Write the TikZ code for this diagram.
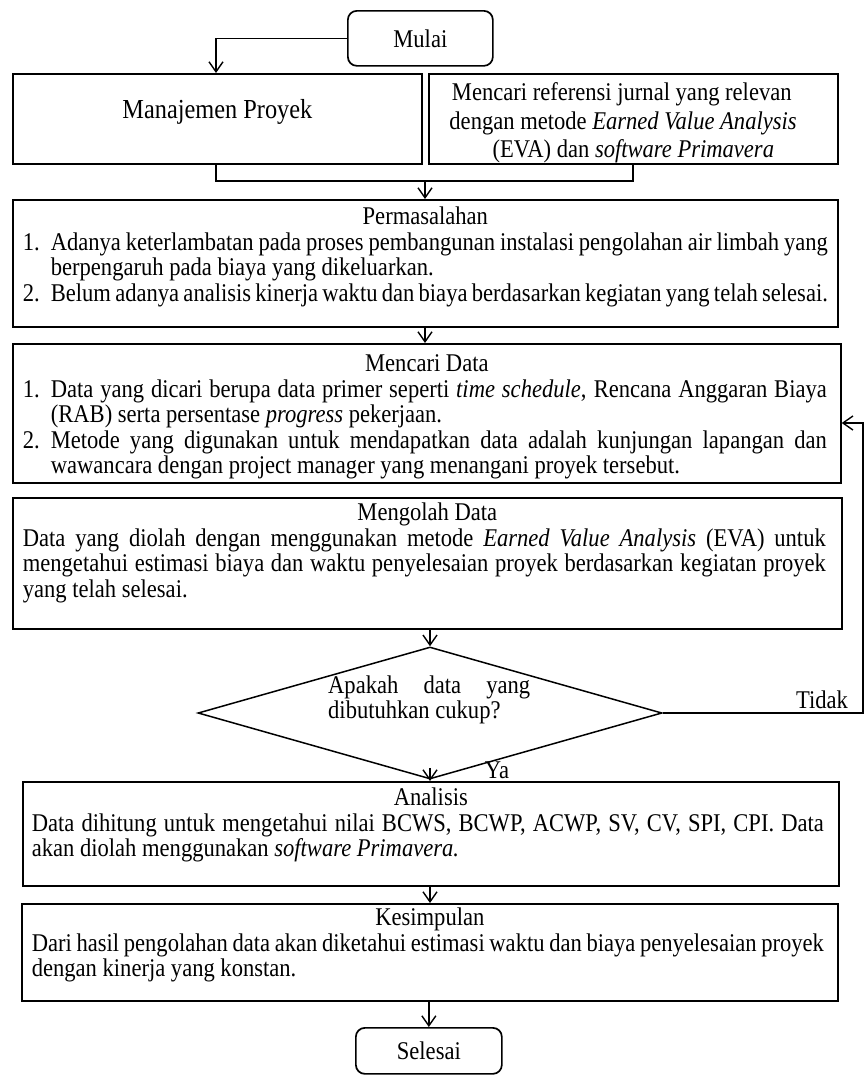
\documentclass[tikz,border=0pt]{standalone}
\usepackage{fontspec}
\setmainfont{Liberation Serif}[FakeStretch=0.885]
\usetikzlibrary{shapes.geometric,arrows.meta}
\newcommand\ttl[2]{{\leftskip=0pt plus 1fil\rightskip=0pt plus 1fil\parfillskip=0pt\rule{0pt}{#1}#2\par}}
\newcommand\itm[2]{{\hangindent=28pt\hangafter=1\noindent\makebox[28pt][l]{#1}#2\par}}
\newcommand\fbx[5]{\parbox[c][#1][t]{#2}{\leftskip=#3\rightskip=#4\parindent=0pt\parskip=0pt
  \tolerance=9999\hbadness=10000\hyphenpenalty=10000\exhyphenpenalty=10000#5}}
\tikzset{
  base/.style={font=\fontsize{25.5}{25.5}\selectfont},
  box/.style={base, draw, line width=1.7pt, inner sep=0pt, anchor=north west},
  term/.style={base, draw, line width=1.7pt, rounded corners=9pt, inner sep=0pt, anchor=north west},
  arr/.style={line width=1.4pt, -{Straight Barb[length=10pt,width=14pt,line width=1.4pt]}},
  ln/.style={line width=1.4pt},
  lbl/.style={base, inner sep=0pt, anchor=base},
}
\begin{document}
\begin{tikzpicture}[x=1pt,y=-1pt]
\useasboundingbox (0,0) rectangle (864,1076);
% terminals
\node[term, minimum width=145pt, minimum height=55pt] (mulai) at (347,10) {Mulai};
\node[term, minimum width=146pt, minimum height=46pt] (selesai) at (355,1027) {Selesai};
% top boxes
\node[box] (mp) at (12,73) {\fbx{90pt}{409pt}{0pt}{0pt}{\fontsize{27.5}{28}\selectfont\ttl{45pt}{Manajemen Proyek}}};
\node[box] (ref) at (428,73) {\fbx{90pt}{409pt}{0pt}{0pt}{\fontsize{25.5}{28.5}\selectfont
  \ttl{27pt}{Mencari referensi jurnal yang relevan\\ dengan metode \textit{Earned Value Analysis}\\ (EVA) dan \textit{software Primavera}}}};
% Permasalahan
\node[box] (perm) at (12,199) {\fbx{127pt}{825pt}{10pt}{10pt}{
  \ttl{25pt}{Permasalahan}
  \itm{1.}{Adanya keterlambatan pada proses pembangunan instalasi pengolahan air limbah yang\linebreak berpengaruh pada biaya yang dikeluarkan.}
  \itm{2.}{Belum adanya analisis kinerja waktu dan biaya berdasarkan kegiatan yang telah selesai.}}};
% Mencari Data
\node[box] (md) at (12,343) {\fbx{139pt}{828pt}{10pt}{14pt}{
  \ttl{28pt}{Mencari Data}
  \itm{1.}{Data yang dicari berupa data primer seperti \textit{time schedule}, Rencana Anggaran Biaya\linebreak (RAB) serta persentase \textit{progress} pekerjaan.}
  \itm{2.}{Metode yang digunakan untuk mendapatkan data adalah kunjungan lapangan dan\linebreak wawancara dengan project manager yang menangani proyek tersebut.}}};
% Mengolah Data
\node[box] (mo) at (12,497) {\fbx{131pt}{829pt}{10pt}{16pt}{
  \ttl{23pt}{Mengolah Data}
  Data yang diolah dengan menggunakan metode \textit{Earned Value Analysis} (EVA) untuk\linebreak mengetahui estimasi biaya dan waktu penyelesaian proyek berdasarkan kegiatan proyek\linebreak yang telah selesai.\par}};
% decision
\node[diamond, draw, line width=1.5pt, minimum width=464pt, minimum height=132pt, inner sep=0pt] (dec) at (430,713) {};
\node[base, anchor=north west, inner sep=0pt] (dect) at (328,675) {\parbox{202pt}{\tolerance=9999\hbadness=10000\rule{0pt}{18pt}Apakah data yang\linebreak dibutuhkan cukup?}};
% Analisis
\node[box] (an) at (22,781) {\fbx{104pt}{816pt}{9pt}{15pt}{
  \ttl{24pt}{Analisis}
  Data dihitung untuk mengetahui nilai BCWS, BCWP, ACWP, SV, CV, SPI, CPI. Data\linebreak akan diolah menggunakan \textit{software Primavera.}\par}};
% Kesimpulan
\node[box] (ks) at (21,903) {\fbx{97pt}{816pt}{10pt}{14pt}{
  \ttl{22pt}{Kesimpulan}
  Dari hasil pengolahan data akan diketahui estimasi waktu dan biaya penyelesaian proyek\linebreak dengan kinerja yang konstan.\par}};
% labels
\node[lbl] (tidak) at (822,708) {Tidak};
\node[lbl] (ya) at (497,778) {Ya};
% connectors
\coordinate (m1) at (216,0);
\draw[arr] (mulai.west) -| (m1 |- mp.north);
\coordinate (j1) at (216,181);
\coordinate (j2) at (633,181);
\coordinate (j3) at (425,181);
\draw[ln] (j1 |- mp.south) -- (j1) -- (j2) -- (j2 |- ref.south);
\draw[arr] (j3) -- (j3 |- perm.north);
\draw[arr] (j3 |- perm.south) -- (j3 |- md.north);
\draw[arr] (dec.north |- mo.south) -- (dec.north);
\draw[arr] ([yshift=12pt]dec.south) -- (dec.south |- an.north);
\draw[arr] (dec.south |- an.south) -- (dec.south |- ks.north);
\draw[arr] (selesai.north |- ks.south) -- (selesai.north);
\coordinate (t1) at (863,713);
\coordinate (t2) at (863,423);
\draw[arr] (dec.east) -- (t1) -- (t2) -- (t2 -| md.east);
\end{tikzpicture}
\end{document}
